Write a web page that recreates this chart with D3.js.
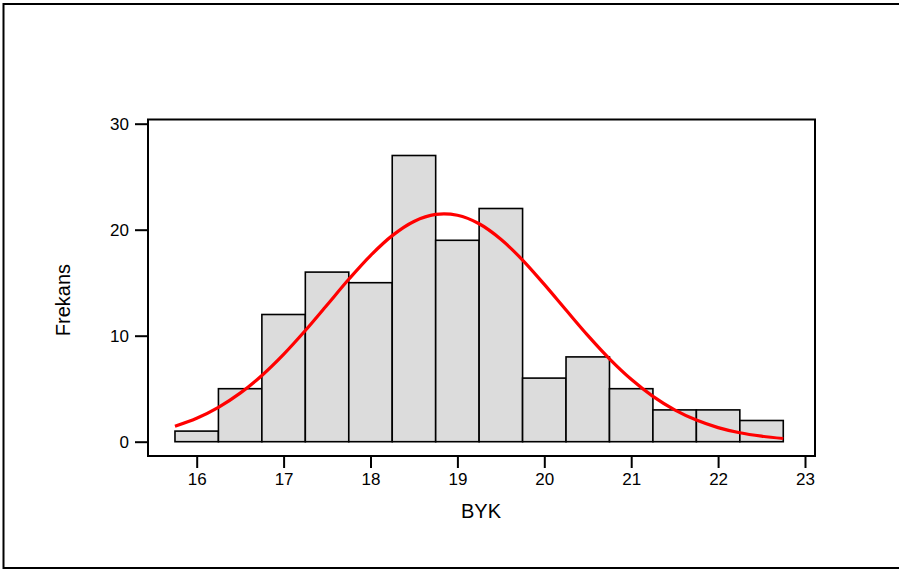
<!DOCTYPE html>
<html>
<head>
<meta charset="utf-8">
<script src="https://cdn.jsdelivr.net/npm/d3@7"></script>
<style>
  html, body { margin: 0; padding: 0; background: #fff; }
  svg { display: block; }
  text { font-family: "Liberation Sans", Arial, sans-serif; fill: #000; }
</style>
</head>
<body>
<svg id="chart" width="899" height="569"></svg>
<script>
// Histogram bins of BYK (lower edge, upper edge, count)
const binStart = [15.75, 16.25, 16.75, 17.25, 17.75, 18.25, 18.75, 19.25, 19.75, 20.25, 20.75, 21.25, 21.75, 22.25];
const binEnd   = [16.25, 16.75, 17.25, 17.75, 18.25, 18.75, 19.25, 19.75, 20.25, 20.75, 21.25, 21.75, 22.25, 22.75];
const counts   = [1, 5, 12, 16, 15, 27, 19, 22, 6, 8, 5, 3, 3, 2];

// Fitted normal curve (expected frequency per bin)
const curveX = [15.75, 16.0, 16.25, 16.5, 16.75, 17.0, 17.25, 17.5, 17.75, 18.0, 18.25, 18.5, 18.75, 19.0,
                19.25, 19.5, 19.75, 20.0, 20.25, 20.5, 20.75, 21.0, 21.25, 21.5, 21.75, 22.0, 22.25, 22.5, 22.75];
const curveY = [1.46, 2.21, 3.24, 4.58, 6.25, 8.24, 10.49, 12.90, 15.32, 17.56, 19.44, 20.78, 21.44, 21.36,
                20.56, 19.10, 17.14, 14.84, 12.42, 10.03, 7.82, 5.89, 4.28, 3.01, 2.04, 1.33, 0.84, 0.52, 0.30];

const xTicks = [16, 17, 18, 19, 20, 21, 22, 23];
const yTicks = [0, 10, 20, 30];
const xTitle = "BYK";
const yTitle = "Frekans";

const svg = d3.select("#chart");

// Outer border
svg.append("rect")
  .attr("x", 3.5).attr("y", 4).attr("width", 898).attr("height", 564)
  .attr("fill", "none").attr("stroke", "#000").attr("stroke-width", 2);

const frame = { left: 148, right: 815, top: 119.5, bottom: 456 };

const x = d3.scaleLinear().domain([16, 23]).range([196.7, 805]);
const y = d3.scaleLinear().domain([0, 30]).range([441.7, 123.7]);

// Plot frame
svg.append("rect")
  .attr("x", frame.left).attr("y", frame.top)
  .attr("width", frame.right - frame.left).attr("height", frame.bottom - frame.top)
  .attr("fill", "none").attr("stroke", "#000").attr("stroke-width", 2);

// Bars
svg.append("g").selectAll("rect")
  .data(counts)
  .join("rect")
  .attr("x", (d, i) => x(binStart[i]))
  .attr("y", d => y(d))
  .attr("width", (d, i) => x(binEnd[i]) - x(binStart[i]))
  .attr("height", d => y(0) - y(d))
  .attr("fill", "#dcdcdc")
  .attr("stroke", "#000")
  .attr("stroke-width", 1.6);

// Normal curve
const line = d3.line()
  .x((d, i) => x(curveX[i]))
  .y(d => y(d))
  .curve(d3.curveCatmullRom);
svg.append("path")
  .datum(curveY)
  .attr("d", line)
  .attr("fill", "none")
  .attr("stroke", "#ff0000")
  .attr("stroke-width", 3.2)
  .attr("stroke-linejoin", "round");

// X axis
const xAxis = d3.axisBottom(x).tickValues(xTicks).tickFormat(d3.format("d"))
  .tickSize(12).tickPadding(5).tickSizeOuter(0);
const gx = svg.append("g").attr("transform", `translate(0,${frame.bottom})`).call(xAxis);
gx.select(".domain").remove();
gx.selectAll(".tick line").attr("stroke", "#000").attr("stroke-width", 2);
gx.selectAll(".tick text").attr("font-size", 17).attr("font-family", "Liberation Sans, Arial, sans-serif");

// Y axis
const yAxis = d3.axisLeft(y).tickValues(yTicks).tickFormat(d3.format("d"))
  .tickSize(13).tickPadding(6).tickSizeOuter(0);
const gy = svg.append("g").attr("transform", `translate(${frame.left},0)`).call(yAxis);
gy.select(".domain").remove();
gy.selectAll(".tick line").attr("stroke", "#000").attr("stroke-width", 2);
gy.selectAll(".tick text").attr("font-size", 17).attr("font-family", "Liberation Sans, Arial, sans-serif");

// Axis titles
svg.append("text")
  .attr("x", 481).attr("y", 518)
  .attr("text-anchor", "middle")
  .attr("font-size", 20)
  .text(xTitle);

svg.append("text")
  .attr("transform", "translate(70,300) rotate(-90)")
  .attr("text-anchor", "middle")
  .attr("font-size", 20)
  .text(yTitle);
</script>
</body>
</html>
